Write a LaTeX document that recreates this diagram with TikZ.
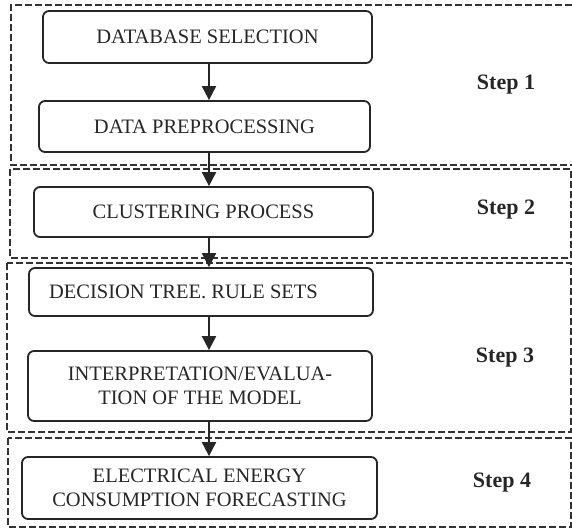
\documentclass[tikz,border=0pt]{standalone}
\usepackage{fontspec}
\setmainfont{Liberation Serif}
\usepackage{tikz}
\usetikzlibrary{arrows.meta,calc,positioning}

\begin{document}
\begin{tikzpicture}[x=1pt, y=-1pt,
  box/.style={draw=black!85, line width=1.8pt, rounded corners=6pt, align=center,
    inner sep=0pt, font=\fontsize{20.5}{24.5}\selectfont, text=black!85},
  frame/.style={draw=black!80, line width=1.2pt, dash pattern=on 7pt off 3pt},
  steplabel/.style={font=\fontsize{22}{26}\selectfont\bfseries, text=black!85},
  arr/.style={line width=2pt, draw=black!85, -{Triangle[length=14pt,width=14pt]}}]

\useasboundingbox (0,0) rectangle (572,528);

% Blocchi
\node[box, minimum width=329pt, minimum height=52pt] (db) at (207.5,37) {DATABASE SELECTION};
\node[box, minimum width=331pt, minimum height=51pt] (prep) at (204.5,126.5) {DATA PREPROCESSING};
\node[box, minimum width=339pt, minimum height=50pt] (clust) at (203.5,212) {CLUSTERING PROCESS};
\node[box, minimum width=344pt, minimum height=48pt] (tree) at (201,292) {DECISION TREE. RULE SETS\hspace*{35pt}};
\node[box, minimum width=344pt, minimum height=70pt] (interp) at (200,386)
      {INTERPRETATION/EVALUA-\\TION OF THE MODEL};
\node[box, minimum width=355pt, minimum height=62pt] (elec) at (199.5,488)
      {ELECTRICAL ENERGY\\CONSUMPTION FORECASTING};

% Riquadri tratteggiati
\draw[frame] (572,5) -- (11,5) -- (11,165) -- (572,165);
\draw[frame] (10,169) rectangle (571,258);
\draw[frame] (7,263) rectangle (571,432);
\draw[frame] (8,438) rectangle (571,527);

% Etichette step
\node[steplabel] (s1) at (506,85) {Step 1};
\node[steplabel] (s2) at (506,210) {Step 2};
\node[steplabel] (s3) at (505,358) {Step 3};
\node[steplabel] (s4) at (502,483) {Step 4};

% Frecce
\coordinate (ax) at (209,0);
\draw[arr] (ax |- db.south) -- (ax |- prep.north);
\draw[arr] (ax |- prep.south) -- (ax |- clust.north);
\draw[arr] (ax |- clust.south) -- (ax |- tree.north);
\draw[arr] (ax |- tree.south) -- (ax |- interp.north);
\draw[arr] (ax |- interp.south) -- (ax |- elec.north);

\end{tikzpicture}
\end{document}
